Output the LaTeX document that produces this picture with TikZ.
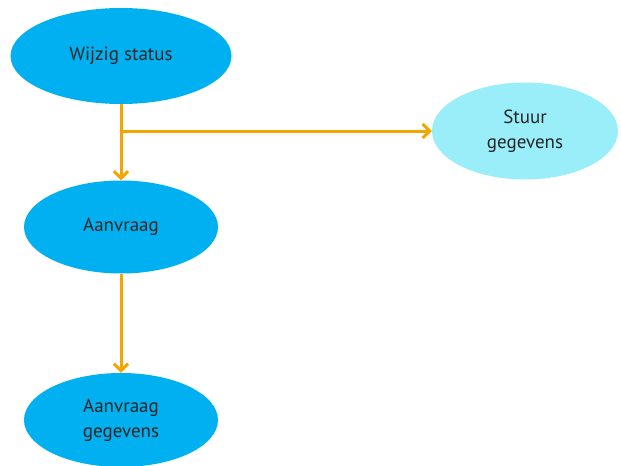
\documentclass[tikz,border=0pt]{standalone}
\usepackage{fontspec}
\setmainfont{PT Sans}
\usetikzlibrary{shapes.geometric,arrows.meta}
\definecolor{procblue}{RGB}{0,176,240}
\definecolor{sendcyan}{RGB}{153,238,250}
\definecolor{floworange}{RGB}{245,165,0}
\begin{document}
\begin{tikzpicture}
[x=1pt,y=-1pt,%
  proc/.style={shape=ellipse,fill=procblue,inner sep=0pt,align=center,%
    text=black!85,font=\fontsize{19}{25}\selectfont},%
  send/.style={proc,fill=sendcyan},%
  flow/.style={draw=floworange,line width=3pt,%
    -{Straight Barb[length=7pt,width=14pt]}}]
\useasboundingbox (0,0) rectangle (622,466);
\node[proc,minimum width=221pt,minimum height=96pt] (wijzig) at (121,56) {Wijzig status};
\node[send,minimum width=186pt,minimum height=97pt] (stuur) at (525,131) {Stuur\\gegevens};
\node[proc,minimum width=194pt,minimum height=93pt] (aanvraag) at (121,227) {Aanvraag};
\node[proc,minimum width=194pt,minimum height=94pt] (gegevens) at (121,420) {Aanvraag\\gegevens};
\coordinate (split) at (121,131);
\draw[flow] (wijzig.south) -- (aanvraag.north);
\draw[flow] (split) -- (stuur.west);
\draw[flow] (aanvraag.south) -- (gegevens.north);
\end{tikzpicture}
\end{document}
